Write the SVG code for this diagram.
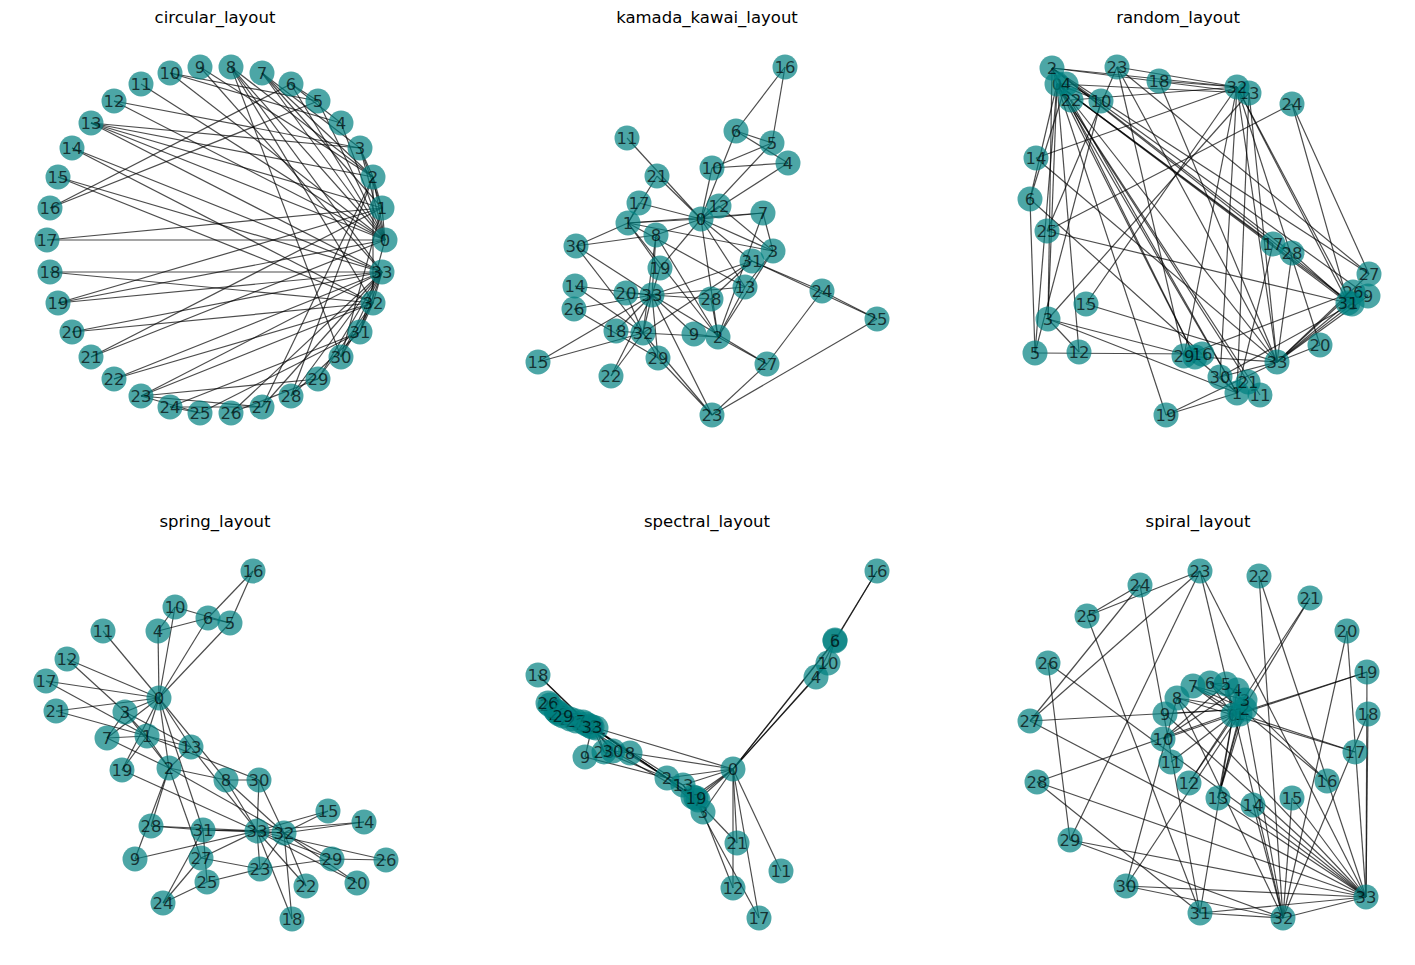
<svg xmlns="http://www.w3.org/2000/svg" width="1415" height="965" viewBox="0 0 1415 965">
<style>
.e path{stroke:#000;stroke-opacity:.7;stroke-width:1.2;fill:none}
.n circle{fill:#008080;fill-opacity:.7;r:12.5px}
.n text{font-family:"DejaVu Sans",sans-serif;font-size:16.5px;fill:#000;fill-opacity:.7;text-anchor:middle;dominant-baseline:central}
.t{font-family:"DejaVu Sans",sans-serif;font-size:16.5px;fill:#000;text-anchor:middle}
</style>
<rect width="1415" height="965" fill="#fff"/>
<g id="titles">
<text class="t" x="215" y="23">circular_layout</text>
<text class="t" x="707" y="23">kamada_kawai_layout</text>
<text class="t" x="1178" y="23">random_layout</text>
<text class="t" x="215" y="527">spring_layout</text>
<text class="t" x="707" y="527">spectral_layout</text>
<text class="t" x="1198" y="527">spiral_layout</text>
</g>
<g id="connectors" class="e">
<g id="edges-circular">
<path d="M385 240L382 208"/><path d="M385 240L373 177"/><path d="M385 240L360 148"/><path d="M385 240L341 123"/><path d="M385 240L318 101"/><path d="M385 240L291 84"/><path d="M385 240L262 73"/><path d="M385 240L231 67"/><path d="M385 240L170 73"/><path d="M385 240L141 84"/><path d="M385 240L114 101"/><path d="M385 240L91 123"/><path d="M385 240L47 240"/><path d="M385 240L58 303"/><path d="M385 240L91 357"/><path d="M385 240L360 332"/>
<path d="M382 208L373 177"/><path d="M382 208L360 148"/><path d="M382 208L262 73"/><path d="M382 208L91 123"/><path d="M382 208L47 240"/><path d="M382 208L58 303"/><path d="M382 208L91 357"/><path d="M382 208L341 357"/>
<path d="M373 177L360 148"/><path d="M373 177L262 73"/><path d="M373 177L231 67"/><path d="M373 177L200 67"/><path d="M373 177L91 123"/><path d="M373 177L262 407"/><path d="M373 177L291 396"/><path d="M373 177L373 303"/>
<path d="M360 148L262 73"/><path d="M360 148L114 101"/><path d="M360 148L91 123"/><path d="M341 123L291 84"/><path d="M341 123L170 73"/><path d="M318 101L291 84"/><path d="M318 101L170 73"/><path d="M318 101L50 208"/><path d="M291 84L50 208"/>
<path d="M231 67L341 357"/><path d="M231 67L373 303"/><path d="M231 67L382 272"/><path d="M200 67L382 272"/><path d="M91 123L382 272"/><path d="M72 148L373 303"/><path d="M72 148L382 272"/><path d="M58 177L373 303"/><path d="M58 177L382 272"/><path d="M50 272L373 303"/><path d="M50 272L382 272"/><path d="M58 303L382 272"/><path d="M72 332L373 303"/><path d="M72 332L382 272"/><path d="M114 379L373 303"/><path d="M114 379L382 272"/>
<path d="M141 396L200 413"/><path d="M141 396L262 407"/><path d="M141 396L318 379"/><path d="M141 396L373 303"/><path d="M141 396L382 272"/><path d="M170 407L200 413"/><path d="M170 407L262 407"/><path d="M170 407L360 332"/><path d="M200 413L360 332"/><path d="M231 413L318 379"/><path d="M231 413L382 272"/><path d="M262 407L382 272"/><path d="M291 396L360 332"/><path d="M291 396L382 272"/><path d="M318 379L373 303"/><path d="M318 379L382 272"/><path d="M341 357L373 303"/><path d="M341 357L382 272"/><path d="M360 332L373 303"/><path d="M360 332L382 272"/><path d="M373 303L382 272"/>
</g>
<g id="edges-kamada">
<path d="M701 219L628 223"/><path d="M701 219L718 337"/><path d="M701 219L773 251"/><path d="M701 219L788 163"/><path d="M701 219L772 143"/><path d="M701 219L736 131"/><path d="M701 219L763 213"/><path d="M701 219L656 235"/><path d="M701 219L712 168"/><path d="M701 219L627 138"/><path d="M701 219L719 206"/><path d="M701 219L745 287"/><path d="M701 219L639 203"/><path d="M701 219L660 268"/><path d="M701 219L657 176"/><path d="M701 219L752 261"/>
<path d="M628 223L718 337"/><path d="M628 223L773 251"/><path d="M628 223L763 213"/><path d="M628 223L745 287"/><path d="M628 223L639 203"/><path d="M628 223L660 268"/><path d="M628 223L657 176"/><path d="M628 223L576 246"/>
<path d="M718 337L773 251"/><path d="M718 337L763 213"/><path d="M718 337L656 235"/><path d="M718 337L694 334"/><path d="M718 337L745 287"/><path d="M718 337L767 364"/><path d="M718 337L711 299"/><path d="M718 337L643 333"/>
<path d="M773 251L763 213"/><path d="M773 251L719 206"/><path d="M773 251L745 287"/><path d="M788 163L736 131"/><path d="M788 163L712 168"/><path d="M772 143L736 131"/><path d="M772 143L712 168"/><path d="M772 143L785 67"/><path d="M736 131L785 67"/>
<path d="M656 235L576 246"/><path d="M656 235L643 333"/><path d="M656 235L652 295"/><path d="M694 334L652 295"/><path d="M745 287L652 295"/><path d="M575 286L643 333"/><path d="M575 286L652 295"/><path d="M538 362L643 333"/><path d="M538 362L652 295"/><path d="M616 331L643 333"/><path d="M616 331L652 295"/><path d="M660 268L652 295"/><path d="M626 293L643 333"/><path d="M626 293L652 295"/><path d="M611 376L643 333"/><path d="M611 376L652 295"/>
<path d="M712 415L877 319"/><path d="M712 415L767 364"/><path d="M712 415L658 358"/><path d="M712 415L643 333"/><path d="M712 415L652 295"/><path d="M822 291L877 319"/><path d="M822 291L767 364"/><path d="M822 291L752 261"/><path d="M877 319L752 261"/><path d="M574 309L658 358"/><path d="M574 309L652 295"/><path d="M767 364L652 295"/><path d="M711 299L752 261"/><path d="M711 299L652 295"/><path d="M658 358L643 333"/><path d="M658 358L652 295"/><path d="M576 246L643 333"/><path d="M576 246L652 295"/><path d="M752 261L643 333"/><path d="M752 261L652 295"/><path d="M643 333L652 295"/>
</g>
<g id="edges-random">
<path d="M1057 84L1237 393"/><path d="M1057 84L1052 68"/><path d="M1057 84L1048 319"/><path d="M1057 84L1066 84"/><path d="M1057 84L1035 353"/><path d="M1057 84L1030 199"/><path d="M1057 84L1195 357"/><path d="M1057 84L1352 304"/><path d="M1057 84L1101 101"/><path d="M1057 84L1260 395"/><path d="M1057 84L1079 352"/><path d="M1057 84L1249 93"/><path d="M1057 84L1273 244"/><path d="M1057 84L1166 415"/><path d="M1057 84L1248 382"/><path d="M1057 84L1348 303"/>
<path d="M1237 393L1052 68"/><path d="M1237 393L1048 319"/><path d="M1237 393L1195 357"/><path d="M1237 393L1249 93"/><path d="M1237 393L1273 244"/><path d="M1237 393L1166 415"/><path d="M1237 393L1248 382"/><path d="M1237 393L1220 377"/>
<path d="M1052 68L1048 319"/><path d="M1052 68L1195 357"/><path d="M1052 68L1352 304"/><path d="M1052 68L1368 296"/><path d="M1052 68L1249 93"/><path d="M1052 68L1369 274"/><path d="M1052 68L1292 253"/><path d="M1052 68L1237 87"/>
<path d="M1048 319L1195 357"/><path d="M1048 319L1079 352"/><path d="M1048 319L1249 93"/><path d="M1066 84L1030 199"/><path d="M1066 84L1101 101"/><path d="M1035 353L1030 199"/><path d="M1035 353L1101 101"/><path d="M1035 353L1202 354"/><path d="M1030 199L1202 354"/>
<path d="M1352 304L1220 377"/><path d="M1352 304L1237 87"/><path d="M1352 304L1277 362"/><path d="M1368 296L1277 362"/><path d="M1249 93L1277 362"/><path d="M1036 158L1237 87"/><path d="M1036 158L1277 362"/><path d="M1086 304L1237 87"/><path d="M1086 304L1277 362"/><path d="M1159 81L1237 87"/><path d="M1159 81L1277 362"/><path d="M1166 415L1277 362"/><path d="M1320 345L1237 87"/><path d="M1320 345L1277 362"/><path d="M1071 100L1237 87"/><path d="M1071 100L1277 362"/>
<path d="M1117 67L1047 231"/><path d="M1117 67L1369 274"/><path d="M1117 67L1184 356"/><path d="M1117 67L1237 87"/><path d="M1117 67L1277 362"/><path d="M1292 104L1047 231"/><path d="M1292 104L1369 274"/><path d="M1292 104L1348 303"/><path d="M1047 231L1348 303"/><path d="M1353 292L1184 356"/><path d="M1353 292L1277 362"/><path d="M1369 274L1277 362"/><path d="M1292 253L1348 303"/><path d="M1292 253L1277 362"/><path d="M1184 356L1237 87"/><path d="M1184 356L1277 362"/><path d="M1220 377L1237 87"/><path d="M1220 377L1277 362"/><path d="M1348 303L1237 87"/><path d="M1348 303L1277 362"/><path d="M1237 87L1277 362"/>
</g>
<g id="edges-spring">
<path d="M159 698L147 736"/><path d="M159 698L169 768"/><path d="M159 698L125 712"/><path d="M159 698L158 631"/><path d="M159 698L230 623"/><path d="M159 698L208 618"/><path d="M159 698L107 738"/><path d="M159 698L226 780"/><path d="M159 698L175 607"/><path d="M159 698L103 631"/><path d="M159 698L67 659"/><path d="M159 698L191 747"/><path d="M159 698L46 681"/><path d="M159 698L122 770"/><path d="M159 698L56 711"/><path d="M159 698L203 830"/>
<path d="M147 736L169 768"/><path d="M147 736L125 712"/><path d="M147 736L107 738"/><path d="M147 736L191 747"/><path d="M147 736L46 681"/><path d="M147 736L122 770"/><path d="M147 736L56 711"/><path d="M147 736L259 780"/>
<path d="M169 768L125 712"/><path d="M169 768L107 738"/><path d="M169 768L226 780"/><path d="M169 768L135 859"/><path d="M169 768L191 747"/><path d="M169 768L201 858"/><path d="M169 768L151 826"/><path d="M169 768L284 833"/>
<path d="M125 712L107 738"/><path d="M125 712L67 659"/><path d="M125 712L191 747"/><path d="M158 631L208 618"/><path d="M158 631L175 607"/><path d="M230 623L208 618"/><path d="M230 623L175 607"/><path d="M230 623L253 571"/><path d="M208 618L253 571"/>
<path d="M226 780L259 780"/><path d="M226 780L284 833"/><path d="M226 780L257 831"/><path d="M135 859L257 831"/><path d="M191 747L257 831"/><path d="M364 822L284 833"/><path d="M364 822L257 831"/><path d="M328 811L284 833"/><path d="M328 811L257 831"/><path d="M292 919L284 833"/><path d="M292 919L257 831"/><path d="M122 770L257 831"/><path d="M357 883L284 833"/><path d="M357 883L257 831"/><path d="M306 886L284 833"/><path d="M306 886L257 831"/>
<path d="M260 869L207 882"/><path d="M260 869L201 858"/><path d="M260 869L332 859"/><path d="M260 869L284 833"/><path d="M260 869L257 831"/><path d="M163 903L207 882"/><path d="M163 903L201 858"/><path d="M163 903L203 830"/><path d="M207 882L203 830"/><path d="M386 860L332 859"/><path d="M386 860L257 831"/><path d="M201 858L257 831"/><path d="M151 826L203 830"/><path d="M151 826L257 831"/><path d="M332 859L284 833"/><path d="M332 859L257 831"/><path d="M259 780L284 833"/><path d="M259 780L257 831"/><path d="M203 830L284 833"/><path d="M203 830L257 831"/><path d="M284 833L257 831"/>
</g>
<g id="edges-spectral">
<path d="M733 769L693 797"/><path d="M733 769L667 778"/><path d="M733 769L703 812"/><path d="M733 769L816 677"/><path d="M733 769L835 640"/><path d="M733 769L835 641"/><path d="M733 769L698 800"/><path d="M733 769L630 753"/><path d="M733 769L828 663"/><path d="M733 769L781 871"/><path d="M733 769L733 888"/><path d="M733 769L683 785"/><path d="M733 769L759 918"/><path d="M733 769L696 798"/><path d="M733 769L737 843"/><path d="M733 769L596 728"/>
<path d="M693 797L667 778"/><path d="M693 797L703 812"/><path d="M693 797L698 800"/><path d="M693 797L683 785"/><path d="M693 797L759 918"/><path d="M693 797L696 798"/><path d="M693 797L737 843"/><path d="M693 797L613 751"/>
<path d="M667 778L703 812"/><path d="M667 778L698 800"/><path d="M667 778L630 753"/><path d="M667 778L585 757"/><path d="M667 778L683 785"/><path d="M667 778L576 721"/><path d="M667 778L604 752"/><path d="M667 778L590 726"/>
<path d="M703 812L698 800"/><path d="M703 812L733 888"/><path d="M703 812L683 785"/><path d="M816 677L835 641"/><path d="M816 677L828 663"/><path d="M835 640L835 641"/><path d="M835 640L828 663"/><path d="M835 640L877 571"/><path d="M835 641L877 571"/>
<path d="M630 753L613 751"/><path d="M630 753L590 726"/><path d="M630 753L592 727"/><path d="M585 757L592 727"/><path d="M683 785L592 727"/><path d="M556 711L590 726"/><path d="M556 711L592 727"/><path d="M557 712L590 726"/><path d="M557 712L592 727"/><path d="M538 675L590 726"/><path d="M538 675L592 727"/><path d="M696 798L592 727"/><path d="M550 705L590 726"/><path d="M550 705L592 727"/><path d="M559 714L590 726"/><path d="M559 714L592 727"/>
<path d="M570 719L586 724"/><path d="M570 719L576 721"/><path d="M570 719L563 716"/><path d="M570 719L590 726"/><path d="M570 719L592 727"/><path d="M583 722L586 724"/><path d="M583 722L576 721"/><path d="M583 722L596 728"/><path d="M586 724L596 728"/><path d="M548 703L563 716"/><path d="M548 703L592 727"/><path d="M576 721L592 727"/><path d="M604 752L596 728"/><path d="M604 752L592 727"/><path d="M563 716L590 726"/><path d="M563 716L592 727"/><path d="M613 751L590 726"/><path d="M613 751L592 727"/><path d="M596 728L590 726"/><path d="M596 728L592 727"/><path d="M590 726L592 727"/>
</g>
<g id="edges-spiral">
<path d="M1233 715L1240 714"/><path d="M1233 715L1245 709"/><path d="M1233 715L1245 700"/><path d="M1233 715L1237 690"/><path d="M1233 715L1226 684"/><path d="M1233 715L1210 683"/><path d="M1233 715L1193 686"/><path d="M1233 715L1177 698"/><path d="M1233 715L1163 739"/><path d="M1233 715L1171 762"/><path d="M1233 715L1189 783"/><path d="M1233 715L1218 798"/><path d="M1233 715L1355 752"/><path d="M1233 715L1367 672"/><path d="M1233 715L1310 598"/><path d="M1233 715L1200 913"/>
<path d="M1240 714L1245 709"/><path d="M1240 714L1245 700"/><path d="M1240 714L1193 686"/><path d="M1240 714L1218 798"/><path d="M1240 714L1355 752"/><path d="M1240 714L1367 672"/><path d="M1240 714L1310 598"/><path d="M1240 714L1126 886"/>
<path d="M1245 709L1245 700"/><path d="M1245 709L1193 686"/><path d="M1245 709L1177 698"/><path d="M1245 709L1165 714"/><path d="M1245 709L1218 798"/><path d="M1245 709L1030 721"/><path d="M1245 709L1037 782"/><path d="M1245 709L1283 918"/>
<path d="M1245 700L1193 686"/><path d="M1245 700L1189 783"/><path d="M1245 700L1218 798"/><path d="M1237 690L1210 683"/><path d="M1237 690L1163 739"/><path d="M1226 684L1210 683"/><path d="M1226 684L1163 739"/><path d="M1226 684L1327 781"/><path d="M1210 683L1327 781"/>
<path d="M1177 698L1126 886"/><path d="M1177 698L1283 918"/><path d="M1177 698L1366 897"/><path d="M1165 714L1366 897"/><path d="M1218 798L1366 897"/><path d="M1253 805L1283 918"/><path d="M1253 805L1366 897"/><path d="M1292 798L1283 918"/><path d="M1292 798L1366 897"/><path d="M1368 714L1283 918"/><path d="M1368 714L1366 897"/><path d="M1367 672L1366 897"/><path d="M1347 631L1283 918"/><path d="M1347 631L1366 897"/><path d="M1259 576L1283 918"/><path d="M1259 576L1366 897"/>
<path d="M1200 571L1087 616"/><path d="M1200 571L1030 721"/><path d="M1200 571L1070 840"/><path d="M1200 571L1283 918"/><path d="M1200 571L1366 897"/><path d="M1140 585L1087 616"/><path d="M1140 585L1030 721"/><path d="M1140 585L1200 913"/><path d="M1087 616L1200 913"/><path d="M1048 663L1070 840"/><path d="M1048 663L1366 897"/><path d="M1030 721L1366 897"/><path d="M1037 782L1200 913"/><path d="M1037 782L1366 897"/><path d="M1070 840L1283 918"/><path d="M1070 840L1366 897"/><path d="M1126 886L1283 918"/><path d="M1126 886L1366 897"/><path d="M1200 913L1283 918"/><path d="M1200 913L1366 897"/><path d="M1283 918L1366 897"/>
</g>
</g>
<g id="nodes-circular">
<g id="c0" class="n"><circle cx="385" cy="240"/><text x="385" y="240">0</text></g>
<g id="c1" class="n"><circle cx="382" cy="208"/><text x="382" y="208">1</text></g>
<g id="c2" class="n"><circle cx="373" cy="177"/><text x="373" y="177">2</text></g>
<g id="c3" class="n"><circle cx="360" cy="148"/><text x="360" y="148">3</text></g>
<g id="c4" class="n"><circle cx="341" cy="123"/><text x="341" y="123">4</text></g>
<g id="c5" class="n"><circle cx="318" cy="101"/><text x="318" y="101">5</text></g>
<g id="c6" class="n"><circle cx="291" cy="84"/><text x="291" y="84">6</text></g>
<g id="c7" class="n"><circle cx="262" cy="73"/><text x="262" y="73">7</text></g>
<g id="c8" class="n"><circle cx="231" cy="67"/><text x="231" y="67">8</text></g>
<g id="c9" class="n"><circle cx="200" cy="67"/><text x="200" y="67">9</text></g>
<g id="c10" class="n"><circle cx="170" cy="73"/><text x="170" y="73">10</text></g>
<g id="c11" class="n"><circle cx="141" cy="84"/><text x="141" y="84">11</text></g>
<g id="c12" class="n"><circle cx="114" cy="101"/><text x="114" y="101">12</text></g>
<g id="c13" class="n"><circle cx="91" cy="123"/><text x="91" y="123">13</text></g>
<g id="c14" class="n"><circle cx="72" cy="148"/><text x="72" y="148">14</text></g>
<g id="c15" class="n"><circle cx="58" cy="177"/><text x="58" y="177">15</text></g>
<g id="c16" class="n"><circle cx="50" cy="208"/><text x="50" y="208">16</text></g>
<g id="c17" class="n"><circle cx="47" cy="240"/><text x="47" y="240">17</text></g>
<g id="c18" class="n"><circle cx="50" cy="272"/><text x="50" y="272">18</text></g>
<g id="c19" class="n"><circle cx="58" cy="303"/><text x="58" y="303">19</text></g>
<g id="c20" class="n"><circle cx="72" cy="332"/><text x="72" y="332">20</text></g>
<g id="c21" class="n"><circle cx="91" cy="357"/><text x="91" y="357">21</text></g>
<g id="c22" class="n"><circle cx="114" cy="379"/><text x="114" y="379">22</text></g>
<g id="c23" class="n"><circle cx="141" cy="396"/><text x="141" y="396">23</text></g>
<g id="c24" class="n"><circle cx="170" cy="407"/><text x="170" y="407">24</text></g>
<g id="c25" class="n"><circle cx="200" cy="413"/><text x="200" y="413">25</text></g>
<g id="c26" class="n"><circle cx="231" cy="413"/><text x="231" y="413">26</text></g>
<g id="c27" class="n"><circle cx="262" cy="407"/><text x="262" y="407">27</text></g>
<g id="c28" class="n"><circle cx="291" cy="396"/><text x="291" y="396">28</text></g>
<g id="c29" class="n"><circle cx="318" cy="379"/><text x="318" y="379">29</text></g>
<g id="c30" class="n"><circle cx="341" cy="357"/><text x="341" y="357">30</text></g>
<g id="c31" class="n"><circle cx="360" cy="332"/><text x="360" y="332">31</text></g>
<g id="c32" class="n"><circle cx="373" cy="303"/><text x="373" y="303">32</text></g>
<g id="c33" class="n"><circle cx="382" cy="272"/><text x="382" y="272">33</text></g>
</g>
<g id="nodes-kamada">
<g id="k0" class="n"><circle cx="701" cy="219"/><text x="701" y="219">0</text></g>
<g id="k1" class="n"><circle cx="628" cy="223"/><text x="628" y="223">1</text></g>
<g id="k2" class="n"><circle cx="718" cy="337"/><text x="718" y="337">2</text></g>
<g id="k3" class="n"><circle cx="773" cy="251"/><text x="773" y="251">3</text></g>
<g id="k4" class="n"><circle cx="788" cy="163"/><text x="788" y="163">4</text></g>
<g id="k5" class="n"><circle cx="772" cy="143"/><text x="772" y="143">5</text></g>
<g id="k6" class="n"><circle cx="736" cy="131"/><text x="736" y="131">6</text></g>
<g id="k7" class="n"><circle cx="763" cy="213"/><text x="763" y="213">7</text></g>
<g id="k8" class="n"><circle cx="656" cy="235"/><text x="656" y="235">8</text></g>
<g id="k9" class="n"><circle cx="694" cy="334"/><text x="694" y="334">9</text></g>
<g id="k10" class="n"><circle cx="712" cy="168"/><text x="712" y="168">10</text></g>
<g id="k11" class="n"><circle cx="627" cy="138"/><text x="627" y="138">11</text></g>
<g id="k12" class="n"><circle cx="719" cy="206"/><text x="719" y="206">12</text></g>
<g id="k13" class="n"><circle cx="745" cy="287"/><text x="745" y="287">13</text></g>
<g id="k14" class="n"><circle cx="575" cy="286"/><text x="575" y="286">14</text></g>
<g id="k15" class="n"><circle cx="538" cy="362"/><text x="538" y="362">15</text></g>
<g id="k16" class="n"><circle cx="785" cy="67"/><text x="785" y="67">16</text></g>
<g id="k17" class="n"><circle cx="639" cy="203"/><text x="639" y="203">17</text></g>
<g id="k18" class="n"><circle cx="616" cy="331"/><text x="616" y="331">18</text></g>
<g id="k19" class="n"><circle cx="660" cy="268"/><text x="660" y="268">19</text></g>
<g id="k20" class="n"><circle cx="626" cy="293"/><text x="626" y="293">20</text></g>
<g id="k21" class="n"><circle cx="657" cy="176"/><text x="657" y="176">21</text></g>
<g id="k22" class="n"><circle cx="611" cy="376"/><text x="611" y="376">22</text></g>
<g id="k23" class="n"><circle cx="712" cy="415"/><text x="712" y="415">23</text></g>
<g id="k24" class="n"><circle cx="822" cy="291"/><text x="822" y="291">24</text></g>
<g id="k25" class="n"><circle cx="877" cy="319"/><text x="877" y="319">25</text></g>
<g id="k26" class="n"><circle cx="574" cy="309"/><text x="574" y="309">26</text></g>
<g id="k27" class="n"><circle cx="767" cy="364"/><text x="767" y="364">27</text></g>
<g id="k28" class="n"><circle cx="711" cy="299"/><text x="711" y="299">28</text></g>
<g id="k29" class="n"><circle cx="658" cy="358"/><text x="658" y="358">29</text></g>
<g id="k30" class="n"><circle cx="576" cy="246"/><text x="576" y="246">30</text></g>
<g id="k31" class="n"><circle cx="752" cy="261"/><text x="752" y="261">31</text></g>
<g id="k32" class="n"><circle cx="643" cy="333"/><text x="643" y="333">32</text></g>
<g id="k33" class="n"><circle cx="652" cy="295"/><text x="652" y="295">33</text></g>
</g>
<g id="nodes-random">
<g id="r0" class="n"><circle cx="1057" cy="84"/><text x="1057" y="84">0</text></g>
<g id="r1" class="n"><circle cx="1237" cy="393"/><text x="1237" y="393">1</text></g>
<g id="r2" class="n"><circle cx="1052" cy="68"/><text x="1052" y="68">2</text></g>
<g id="r3" class="n"><circle cx="1048" cy="319"/><text x="1048" y="319">3</text></g>
<g id="r4" class="n"><circle cx="1066" cy="84"/><text x="1066" y="84">4</text></g>
<g id="r5" class="n"><circle cx="1035" cy="353"/><text x="1035" y="353">5</text></g>
<g id="r6" class="n"><circle cx="1030" cy="199"/><text x="1030" y="199">6</text></g>
<g id="r7" class="n"><circle cx="1195" cy="357"/><text x="1195" y="357">7</text></g>
<g id="r8" class="n"><circle cx="1352" cy="304"/><text x="1352" y="304">8</text></g>
<g id="r9" class="n"><circle cx="1368" cy="296"/><text x="1368" y="296">9</text></g>
<g id="r10" class="n"><circle cx="1101" cy="101"/><text x="1101" y="101">10</text></g>
<g id="r11" class="n"><circle cx="1260" cy="395"/><text x="1260" y="395">11</text></g>
<g id="r12" class="n"><circle cx="1079" cy="352"/><text x="1079" y="352">12</text></g>
<g id="r13" class="n"><circle cx="1249" cy="93"/><text x="1249" y="93">13</text></g>
<g id="r14" class="n"><circle cx="1036" cy="158"/><text x="1036" y="158">14</text></g>
<g id="r15" class="n"><circle cx="1086" cy="304"/><text x="1086" y="304">15</text></g>
<g id="r16" class="n"><circle cx="1202" cy="354"/><text x="1202" y="354">16</text></g>
<g id="r17" class="n"><circle cx="1273" cy="244"/><text x="1273" y="244">17</text></g>
<g id="r18" class="n"><circle cx="1159" cy="81"/><text x="1159" y="81">18</text></g>
<g id="r19" class="n"><circle cx="1166" cy="415"/><text x="1166" y="415">19</text></g>
<g id="r20" class="n"><circle cx="1320" cy="345"/><text x="1320" y="345">20</text></g>
<g id="r21" class="n"><circle cx="1248" cy="382"/><text x="1248" y="382">21</text></g>
<g id="r22" class="n"><circle cx="1071" cy="100"/><text x="1071" y="100">22</text></g>
<g id="r23" class="n"><circle cx="1117" cy="67"/><text x="1117" y="67">23</text></g>
<g id="r24" class="n"><circle cx="1292" cy="104"/><text x="1292" y="104">24</text></g>
<g id="r25" class="n"><circle cx="1047" cy="231"/><text x="1047" y="231">25</text></g>
<g id="r26" class="n"><circle cx="1353" cy="292"/><text x="1353" y="292">26</text></g>
<g id="r27" class="n"><circle cx="1369" cy="274"/><text x="1369" y="274">27</text></g>
<g id="r28" class="n"><circle cx="1292" cy="253"/><text x="1292" y="253">28</text></g>
<g id="r29" class="n"><circle cx="1184" cy="356"/><text x="1184" y="356">29</text></g>
<g id="r30" class="n"><circle cx="1220" cy="377"/><text x="1220" y="377">30</text></g>
<g id="r31" class="n"><circle cx="1348" cy="303"/><text x="1348" y="303">31</text></g>
<g id="r32" class="n"><circle cx="1237" cy="87"/><text x="1237" y="87">32</text></g>
<g id="r33" class="n"><circle cx="1277" cy="362"/><text x="1277" y="362">33</text></g>
</g>
<g id="nodes-spring">
<g id="s0" class="n"><circle cx="159" cy="698"/><text x="159" y="698">0</text></g>
<g id="s1" class="n"><circle cx="147" cy="736"/><text x="147" y="736">1</text></g>
<g id="s2" class="n"><circle cx="169" cy="768"/><text x="169" y="768">2</text></g>
<g id="s3" class="n"><circle cx="125" cy="712"/><text x="125" y="712">3</text></g>
<g id="s4" class="n"><circle cx="158" cy="631"/><text x="158" y="631">4</text></g>
<g id="s5" class="n"><circle cx="230" cy="623"/><text x="230" y="623">5</text></g>
<g id="s6" class="n"><circle cx="208" cy="618"/><text x="208" y="618">6</text></g>
<g id="s7" class="n"><circle cx="107" cy="738"/><text x="107" y="738">7</text></g>
<g id="s8" class="n"><circle cx="226" cy="780"/><text x="226" y="780">8</text></g>
<g id="s9" class="n"><circle cx="135" cy="859"/><text x="135" y="859">9</text></g>
<g id="s10" class="n"><circle cx="175" cy="607"/><text x="175" y="607">10</text></g>
<g id="s11" class="n"><circle cx="103" cy="631"/><text x="103" y="631">11</text></g>
<g id="s12" class="n"><circle cx="67" cy="659"/><text x="67" y="659">12</text></g>
<g id="s13" class="n"><circle cx="191" cy="747"/><text x="191" y="747">13</text></g>
<g id="s14" class="n"><circle cx="364" cy="822"/><text x="364" y="822">14</text></g>
<g id="s15" class="n"><circle cx="328" cy="811"/><text x="328" y="811">15</text></g>
<g id="s16" class="n"><circle cx="253" cy="571"/><text x="253" y="571">16</text></g>
<g id="s17" class="n"><circle cx="46" cy="681"/><text x="46" y="681">17</text></g>
<g id="s18" class="n"><circle cx="292" cy="919"/><text x="292" y="919">18</text></g>
<g id="s19" class="n"><circle cx="122" cy="770"/><text x="122" y="770">19</text></g>
<g id="s20" class="n"><circle cx="357" cy="883"/><text x="357" y="883">20</text></g>
<g id="s21" class="n"><circle cx="56" cy="711"/><text x="56" y="711">21</text></g>
<g id="s22" class="n"><circle cx="306" cy="886"/><text x="306" y="886">22</text></g>
<g id="s23" class="n"><circle cx="260" cy="869"/><text x="260" y="869">23</text></g>
<g id="s24" class="n"><circle cx="163" cy="903"/><text x="163" y="903">24</text></g>
<g id="s25" class="n"><circle cx="207" cy="882"/><text x="207" y="882">25</text></g>
<g id="s26" class="n"><circle cx="386" cy="860"/><text x="386" y="860">26</text></g>
<g id="s27" class="n"><circle cx="201" cy="858"/><text x="201" y="858">27</text></g>
<g id="s28" class="n"><circle cx="151" cy="826"/><text x="151" y="826">28</text></g>
<g id="s29" class="n"><circle cx="332" cy="859"/><text x="332" y="859">29</text></g>
<g id="s30" class="n"><circle cx="259" cy="780"/><text x="259" y="780">30</text></g>
<g id="s31" class="n"><circle cx="203" cy="830"/><text x="203" y="830">31</text></g>
<g id="s32" class="n"><circle cx="284" cy="833"/><text x="284" y="833">32</text></g>
<g id="s33" class="n"><circle cx="257" cy="831"/><text x="257" y="831">33</text></g>
</g>
<g id="nodes-spectral">
<g id="p0" class="n"><circle cx="733" cy="769"/><text x="733" y="769">0</text></g>
<g id="p1" class="n"><circle cx="693" cy="797"/><text x="693" y="797">1</text></g>
<g id="p2" class="n"><circle cx="667" cy="778"/><text x="667" y="778">2</text></g>
<g id="p3" class="n"><circle cx="703" cy="812"/><text x="703" y="812">3</text></g>
<g id="p4" class="n"><circle cx="816" cy="677"/><text x="816" y="677">4</text></g>
<g id="p5" class="n"><circle cx="835" cy="640"/><text x="835" y="640">5</text></g>
<g id="p6" class="n"><circle cx="835" cy="641"/><text x="835" y="641">6</text></g>
<g id="p7" class="n"><circle cx="698" cy="800"/><text x="698" y="800">7</text></g>
<g id="p8" class="n"><circle cx="630" cy="753"/><text x="630" y="753">8</text></g>
<g id="p9" class="n"><circle cx="585" cy="757"/><text x="585" y="757">9</text></g>
<g id="p10" class="n"><circle cx="828" cy="663"/><text x="828" y="663">10</text></g>
<g id="p11" class="n"><circle cx="781" cy="871"/><text x="781" y="871">11</text></g>
<g id="p12" class="n"><circle cx="733" cy="888"/><text x="733" y="888">12</text></g>
<g id="p13" class="n"><circle cx="683" cy="785"/><text x="683" y="785">13</text></g>
<g id="p14" class="n"><circle cx="556" cy="711"/><text x="556" y="711">14</text></g>
<g id="p15" class="n"><circle cx="557" cy="712"/><text x="557" y="712">15</text></g>
<g id="p16" class="n"><circle cx="877" cy="571"/><text x="877" y="571">16</text></g>
<g id="p17" class="n"><circle cx="759" cy="918"/><text x="759" y="918">17</text></g>
<g id="p18" class="n"><circle cx="538" cy="675"/><text x="538" y="675">18</text></g>
<g id="p19" class="n"><circle cx="696" cy="798"/><text x="696" y="798">19</text></g>
<g id="p20" class="n"><circle cx="550" cy="705"/><text x="550" y="705">20</text></g>
<g id="p21" class="n"><circle cx="737" cy="843"/><text x="737" y="843">21</text></g>
<g id="p22" class="n"><circle cx="559" cy="714"/><text x="559" y="714">22</text></g>
<g id="p23" class="n"><circle cx="570" cy="719"/><text x="570" y="719">23</text></g>
<g id="p24" class="n"><circle cx="583" cy="722"/><text x="583" y="722">24</text></g>
<g id="p25" class="n"><circle cx="586" cy="724"/><text x="586" y="724">25</text></g>
<g id="p26" class="n"><circle cx="548" cy="703"/><text x="548" y="703">26</text></g>
<g id="p27" class="n"><circle cx="576" cy="721"/><text x="576" y="721">27</text></g>
<g id="p28" class="n"><circle cx="604" cy="752"/><text x="604" y="752">28</text></g>
<g id="p29" class="n"><circle cx="563" cy="716"/><text x="563" y="716">29</text></g>
<g id="p30" class="n"><circle cx="613" cy="751"/><text x="613" y="751">30</text></g>
<g id="p31" class="n"><circle cx="596" cy="728"/><text x="596" y="728">31</text></g>
<g id="p32" class="n"><circle cx="590" cy="726"/><text x="590" y="726">32</text></g>
<g id="p33" class="n"><circle cx="592" cy="727"/><text x="592" y="727">33</text></g>
</g>
<g id="nodes-spiral">
<g id="q0" class="n"><circle cx="1233" cy="715"/><text x="1233" y="715">0</text></g>
<g id="q1" class="n"><circle cx="1240" cy="714"/><text x="1240" y="714">1</text></g>
<g id="q2" class="n"><circle cx="1245" cy="709"/><text x="1245" y="709">2</text></g>
<g id="q3" class="n"><circle cx="1245" cy="700"/><text x="1245" y="700">3</text></g>
<g id="q4" class="n"><circle cx="1237" cy="690"/><text x="1237" y="690">4</text></g>
<g id="q5" class="n"><circle cx="1226" cy="684"/><text x="1226" y="684">5</text></g>
<g id="q6" class="n"><circle cx="1210" cy="683"/><text x="1210" y="683">6</text></g>
<g id="q7" class="n"><circle cx="1193" cy="686"/><text x="1193" y="686">7</text></g>
<g id="q8" class="n"><circle cx="1177" cy="698"/><text x="1177" y="698">8</text></g>
<g id="q9" class="n"><circle cx="1165" cy="714"/><text x="1165" y="714">9</text></g>
<g id="q10" class="n"><circle cx="1163" cy="739"/><text x="1163" y="739">10</text></g>
<g id="q11" class="n"><circle cx="1171" cy="762"/><text x="1171" y="762">11</text></g>
<g id="q12" class="n"><circle cx="1189" cy="783"/><text x="1189" y="783">12</text></g>
<g id="q13" class="n"><circle cx="1218" cy="798"/><text x="1218" y="798">13</text></g>
<g id="q14" class="n"><circle cx="1253" cy="805"/><text x="1253" y="805">14</text></g>
<g id="q15" class="n"><circle cx="1292" cy="798"/><text x="1292" y="798">15</text></g>
<g id="q16" class="n"><circle cx="1327" cy="781"/><text x="1327" y="781">16</text></g>
<g id="q17" class="n"><circle cx="1355" cy="752"/><text x="1355" y="752">17</text></g>
<g id="q18" class="n"><circle cx="1368" cy="714"/><text x="1368" y="714">18</text></g>
<g id="q19" class="n"><circle cx="1367" cy="672"/><text x="1367" y="672">19</text></g>
<g id="q20" class="n"><circle cx="1347" cy="631"/><text x="1347" y="631">20</text></g>
<g id="q21" class="n"><circle cx="1310" cy="598"/><text x="1310" y="598">21</text></g>
<g id="q22" class="n"><circle cx="1259" cy="576"/><text x="1259" y="576">22</text></g>
<g id="q23" class="n"><circle cx="1200" cy="571"/><text x="1200" y="571">23</text></g>
<g id="q24" class="n"><circle cx="1140" cy="585"/><text x="1140" y="585">24</text></g>
<g id="q25" class="n"><circle cx="1087" cy="616"/><text x="1087" y="616">25</text></g>
<g id="q26" class="n"><circle cx="1048" cy="663"/><text x="1048" y="663">26</text></g>
<g id="q27" class="n"><circle cx="1030" cy="721"/><text x="1030" y="721">27</text></g>
<g id="q28" class="n"><circle cx="1037" cy="782"/><text x="1037" y="782">28</text></g>
<g id="q29" class="n"><circle cx="1070" cy="840"/><text x="1070" y="840">29</text></g>
<g id="q30" class="n"><circle cx="1126" cy="886"/><text x="1126" y="886">30</text></g>
<g id="q31" class="n"><circle cx="1200" cy="913"/><text x="1200" y="913">31</text></g>
<g id="q32" class="n"><circle cx="1283" cy="918"/><text x="1283" y="918">32</text></g>
<g id="q33" class="n"><circle cx="1366" cy="897"/><text x="1366" y="897">33</text></g>
</g>
</svg>
